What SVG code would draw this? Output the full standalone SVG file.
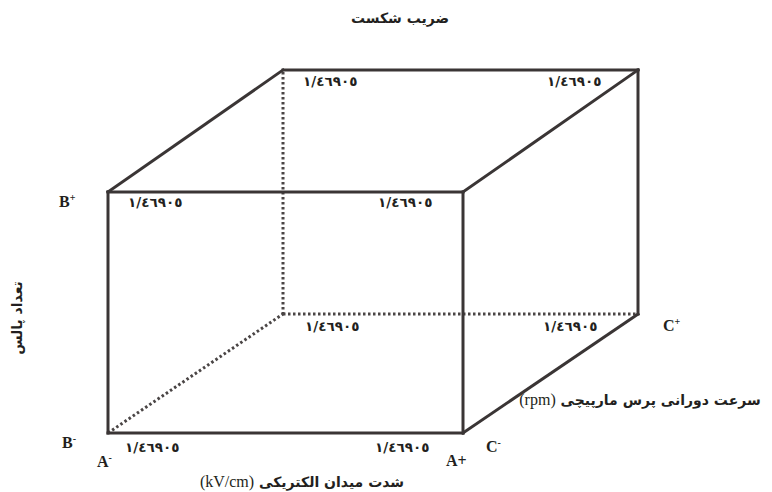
<svg xmlns="http://www.w3.org/2000/svg" width="772" height="492" viewBox="0 0 772 492">
<style>
.e{stroke:#3a3535;stroke-width:3;fill:none;stroke-linecap:square}
.d{stroke:#4a4545;stroke-width:3;fill:none;stroke-dasharray:2.5 2.5}
.n{font-family:"DejaVu Sans",sans-serif;font-weight:bold;font-size:13.5px;fill:#231f20}
.fa{font-family:"DejaVu Sans",sans-serif;font-weight:bold;font-size:14px;fill:#231f20}
.lt{font-family:"Liberation Serif",serif;font-weight:bold;font-size:16px;fill:#231f20}
.ln{font-family:"Liberation Serif",serif;font-weight:normal;font-size:16px;fill:#231f20}
.sup{font-size:10px}
</style>
<rect width="772" height="492" fill="#fff"/>
<g id="connectors">
<line class="d" x1="283" y1="72" x2="283" y2="314"/>
<line class="d" x1="283" y1="314" x2="638" y2="314"/>
<line class="d" x1="108" y1="433" x2="283" y2="314"/>
<line class="e" x1="108" y1="192" x2="463" y2="192"/>
<line class="e" x1="108" y1="192" x2="108" y2="433"/>
<line class="e" x1="108" y1="433" x2="463" y2="433"/>
<line class="e" x1="463" y1="192" x2="463" y2="433"/>
<line class="e" x1="283" y1="70" x2="638" y2="70"/>
<line class="e" x1="638" y1="70" x2="638" y2="314"/>
<line class="e" x1="108" y1="192" x2="283" y2="70"/>
<line class="e" x1="463" y1="192" x2="638" y2="70"/>
<line class="e" x1="463" y1="433" x2="638" y2="314"/>
</g>
<g id="title"><text class="fa" x="400" y="23" text-anchor="middle" direction="rtl">ضریب شکست</text></g>
<g id="values">
<text class="n" x="303" y="86">١/٤٦٩٠٥</text>
<text class="n" x="547" y="86">١/٤٦٩٠٥</text>
<text class="n" x="128" y="207">١/٤٦٩٠٥</text>
<text class="n" x="378" y="207">١/٤٦٩٠٥</text>
<text class="n" x="305" y="331">١/٤٦٩٠٥</text>
<text class="n" x="543" y="331">١/٤٦٩٠٥</text>
<text class="n" x="125" y="452">١/٤٦٩٠٥</text>
<text class="n" x="375" y="452">١/٤٦٩٠٥</text>
</g>
<g id="corner-labels">
<text class="lt" x="59" y="207">B<tspan class="sup" dy="-6">+</tspan></text>
<text class="lt" x="62" y="448">B<tspan class="sup" dy="-6">-</tspan></text>
<text class="lt" x="97" y="467">A<tspan class="sup" dy="-6">-</tspan></text>
<text class="lt" x="446" y="466">A+</text>
<text class="lt" x="486" y="452">C<tspan class="sup" dy="-6">-</tspan></text>
<text class="lt" x="663" y="331">C<tspan class="sup" dy="-6">+</tspan></text>
</g>
<g id="axis-x"><text class="fa" x="302" y="487" text-anchor="middle" direction="rtl">شدت میدان الکتریکی <tspan class="ln">(kV/cm)</tspan></text></g>
<g id="axis-z"><text class="fa" x="640" y="405" text-anchor="middle" direction="rtl">سرعت دورانی پرس مارپیچی <tspan class="ln">(rpm)</tspan></text></g>
<g id="axis-y"><text class="fa" transform="translate(22,318) rotate(-90)" text-anchor="middle" direction="rtl">تعداد پالس</text></g>
</svg>
